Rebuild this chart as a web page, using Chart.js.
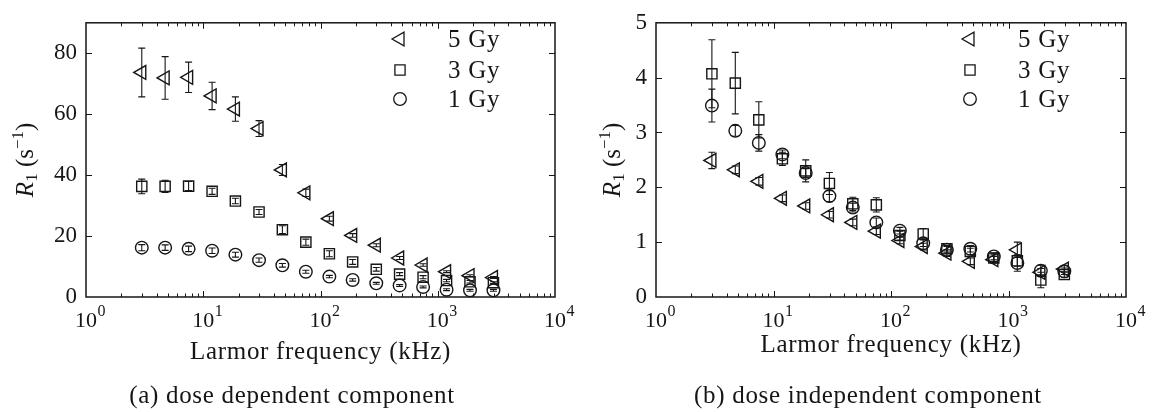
<!DOCTYPE html>
<html>
<head>
<meta charset="utf-8">
<script src="https://cdn.jsdelivr.net/npm/chart.js@4.4.1/dist/chart.umd.min.js"></script>
<style>
  html, body { margin: 0; padding: 0; background: #ffffff; }
  #wrap { display: flex; width: 1152px; height: 412px; }
  canvas { display: block; }
</style>
</head>
<body>
<div id="wrap">
  <canvas id="panelA" width="576" height="412"></canvas>
  <canvas id="panelB" width="576" height="412"></canvas>
</div>
<script>
// Larmor frequencies of the field-cycling points (kHz)
const freqKHz = [2.99, 4.73, 7.50, 11.9, 18.8, 29.9, 47.3, 75.0, 119, 188, 299, 473, 750, 1189, 1884, 2985];
const doseLabels = ['5 Gy', '3 Gy', '1 Gy'];
const xMajorTicks = [1, 10, 100, 1000, 10000];

// (a) dose dependent component, R1 in s^-1
const depR1_5Gy  = [73.7, 71.9, 72.1, 66.0, 61.7, 55.3, 41.7, 34.2, 25.7, 20.2, 17.0, 12.8, 10.5, 8.3, 7.0, 6.4];
const depErr_5Gy = [8.0, 7.0, 5.0, 4.5, 4.0, 2.6, 1.8, 1.2, 0.8, 0.6, 0.5, 0.5, 0.4, 0.3, 0.3, 0.3];
const depR1_3Gy  = [36.3, 36.3, 36.4, 34.7, 31.5, 27.9, 22.1, 18.0, 14.2, 11.5, 9.1, 7.5, 6.5, 5.4, 5.0, 4.7];
const depErr_3Gy = [2.4, 2.0, 1.5, 1.0, 0.9, 0.8, 1.3, 1.0, 1.0, 0.8, 0.6, 0.5, 0.5, 0.4, 0.4, 0.3];
const depR1_1Gy  = [16.2, 16.2, 15.8, 15.2, 13.9, 12.1, 10.4, 8.3, 6.7, 5.6, 4.5, 3.8, 3.3, 2.4, 2.2, 2.2];
const depErr_1Gy = [1.0, 0.9, 0.9, 0.9, 0.8, 0.7, 0.6, 0.5, 0.4, 0.4, 0.3, 0.3, 0.3, 0.3, 0.3, 0.3];
const depYTicks  = [0, 20, 40, 60, 80];

// (b) dose independent component, R1 in s^-1
const indR1_5Gy  = [2.49, 2.32, 2.11, 1.80, 1.66, 1.50, 1.36, 1.20, 1.03, 0.92, 0.80, 0.65, 0.68, 0.86, 0.45, 0.51];
const indErr_5Gy = [0.15, 0.07, 0.07, 0.06, 0.06, 0.06, 0.06, 0.06, 0.06, 0.06, 0.06, 0.06, 0.06, 0.14, 0.07, 0.06];
const indR1_3Gy  = [4.07, 3.90, 3.23, 2.52, 2.30, 2.07, 1.70, 1.68, 1.12, 1.15, 0.88, 0.83, 0.71, 0.66, 0.31, 0.41];
const indErr_3Gy = [0.62, 0.56, 0.33, 0.12, 0.20, 0.20, 0.12, 0.13, 0.08, 0.10, 0.06, 0.06, 0.06, 0.10, 0.14, 0.06];
const indR1_1Gy  = [3.49, 3.03, 2.81, 2.60, 2.26, 1.84, 1.63, 1.36, 1.21, 0.98, 0.86, 0.88, 0.74, 0.62, 0.48, 0.47];
const indErr_1Gy = [0.30, 0.10, 0.15, 0.08, 0.08, 0.10, 0.08, 0.08, 0.06, 0.06, 0.06, 0.06, 0.06, 0.15, 0.10, 0.06];
const indYTicks  = [0, 1, 2, 3, 4, 5];

const SERIF = "'Liberation Serif', 'DejaVu Serif', serif";
const INK = '#161616';

const markerStyles = [
  { pointStyle: 'triangle', rotation: -90, radius: 8 },
  { pointStyle: 'rect', rotation: 0, radius: 7.2 },
  { pointStyle: 'circle', rotation: 0, radius: 6.3 }
];

function toPoints(vals, errs) {
  return freqKHz.map((f, i) => ({ x: f, y: vals[i], e: errs[i] }));
}

function buildDatasets(series) {
  return series.map((s, i) => ({
    label: doseLabels[i],
    data: toPoints(s[0], s[1]),
    showLine: false,
    clip: false,
    pointStyle: markerStyles[i].pointStyle,
    rotation: markerStyles[i].rotation,
    pointRadius: markerStyles[i].radius,
    pointHoverRadius: markerStyles[i].radius,
    borderColor: INK,
    backgroundColor: 'rgba(0,0,0,0)',
    pointBorderWidth: 1.4
  }));
}

// small outline marker used in the in-plot key
function drawKeyMarker(ctx, style, x, y) {
  const r = style.radius;
  ctx.beginPath();
  if (style.pointStyle === 'triangle') {
    let rad = style.rotation * Math.PI / 180;
    ctx.moveTo(x + Math.sin(rad) * r, y - Math.cos(rad) * r);
    rad += 2 * Math.PI / 3;
    ctx.lineTo(x + Math.sin(rad) * r, y - Math.cos(rad) * r);
    rad += 2 * Math.PI / 3;
    ctx.lineTo(x + Math.sin(rad) * r, y - Math.cos(rad) * r);
    ctx.closePath();
  } else if (style.pointStyle === 'rect') {
    const s = Math.SQRT1_2 * r;
    ctx.rect(x - s, y - s, 2 * s, 2 * s);
  } else {
    ctx.arc(x, y, r, 0, 2 * Math.PI);
  }
  ctx.stroke();
}

const errorBars = {
  id: 'errorBars',
  afterDatasetsDraw(chart) {
    const { ctx } = chart;
    const xs = chart.scales.x, ys = chart.scales.y;
    ctx.save();
    ctx.strokeStyle = INK;
    ctx.lineWidth = 1.1;
    chart.data.datasets.forEach(ds => {
      ds.data.forEach(p => {
        const px = xs.getPixelForValue(p.x);
        const yt = ys.getPixelForValue(p.y + p.e);
        const yb = ys.getPixelForValue(p.y - p.e);
        ctx.beginPath();
        ctx.moveTo(px, yt); ctx.lineTo(px, yb);
        ctx.moveTo(px - 3.5, yt); ctx.lineTo(px + 3.5, yt);
        ctx.moveTo(px - 3.5, yb); ctx.lineTo(px + 3.5, yb);
        ctx.stroke();
      });
    });
    ctx.restore();
  }
};

const panelDecor = {
  id: 'panelDecor',
  afterDraw(chart, args, opts) {
    const { ctx, chartArea: a } = chart;
    const xs = chart.scales.x, ys = chart.scales.y;
    ctx.save();
    ctx.strokeStyle = INK;
    ctx.fillStyle = INK;

    // frame
    ctx.lineWidth = 1.5;
    ctx.strokeRect(a.left, a.top, a.right - a.left, a.bottom - a.top);

    // inward ticks
    ctx.lineWidth = 1;
    ctx.beginPath();
    opts.yTicks.forEach(v => {
      const py = Math.round(ys.getPixelForValue(v)) + 0.5;
      if (py <= a.top + 1 || py >= a.bottom - 1) return;
      ctx.moveTo(a.left, py); ctx.lineTo(a.left + 6, py);
      ctx.moveTo(a.right, py); ctx.lineTo(a.right - 6, py);
    });
    for (let d = 0; d < xMajorTicks.length; d++) {
      const base = xMajorTicks[d];
      const px = Math.round(xs.getPixelForValue(base)) + 0.5;
      if (px > a.left + 1 && px < a.right - 1) {
        ctx.moveTo(px, a.bottom); ctx.lineTo(px, a.bottom - 6);
        ctx.moveTo(px, a.top); ctx.lineTo(px, a.top + 6);
      }
      if (d < xMajorTicks.length - 1) {
        for (let m = 2; m <= 9; m++) {
          const mx = Math.round(xs.getPixelForValue(base * m)) + 0.5;
          ctx.moveTo(mx, a.bottom); ctx.lineTo(mx, a.bottom - 3.5);
          ctx.moveTo(mx, a.top); ctx.lineTo(mx, a.top + 3.5);
        }
      }
    }
    ctx.stroke();

    // x tick labels: 10 with raised exponent
    ctx.textBaseline = 'alphabetic';
    xMajorTicks.forEach(v => {
      const px = xs.getPixelForValue(v);
      ctx.font = `22px ${SERIF}`;
      ctx.textAlign = 'center';
      ctx.fillText('10', px, 327);
      const half = ctx.measureText('10').width / 2;
      ctx.font = `16px ${SERIF}`;
      ctx.textAlign = 'left';
      ctx.fillText(String(Math.round(Math.log10(v))), px + half + 0.5, 316);
    });

    // x axis title and sub-figure caption
    ctx.letterSpacing = '0.7px';
    ctx.font = `25px ${SERIF}`;
    ctx.textAlign = 'center';
    ctx.fillText('Larmor frequency (kHz)', (a.left + a.right) / 2, opts.xTitleY);
    ctx.fillText(opts.caption, 292, 403);
    ctx.letterSpacing = '0px';

    // y axis title: R_1 (s^-1), rotated
    ctx.save();
    ctx.translate(opts.yTitleX, (a.top + a.bottom) / 2);
    ctx.rotate(-Math.PI / 2);
    const parts = [
      { t: 'R', f: `italic 25px ${SERIF}`, dy: 0 },
      { t: '1', f: `17px ${SERIF}`, dy: 4 },
      { t: ' (s', f: `25px ${SERIF}`, dy: 0 },
      { t: '\u22121', f: `17px ${SERIF}`, dy: -10 },
      { t: ')', f: `25px ${SERIF}`, dy: 0 }
    ];
    let total = 0;
    parts.forEach(p => { ctx.font = p.f; p.w = ctx.measureText(p.t).width; total += p.w; });
    let cx = -total / 2;
    ctx.textAlign = 'left';
    parts.forEach(p => { ctx.font = p.f; ctx.fillText(p.t, cx, p.dy); cx += p.w; });
    ctx.restore();

    // key inside the plot
    ctx.lineWidth = 1.3;
    ctx.letterSpacing = '0.7px';
    ctx.font = `25px ${SERIF}`;
    ctx.textAlign = 'left';
    ctx.textBaseline = 'middle';
    doseLabels.forEach((lab, i) => {
      const ky = opts.keyRows[i];
      drawKeyMarker(ctx, markerStyles[i], opts.keyMarkerX, ky);
      ctx.fillText(lab, opts.keyTextX, ky + 1);
    });
    ctx.restore();
  }
};

function makePanel(canvasId, series, yMax, yTicks, geom) {
  const ctx = document.getElementById(canvasId).getContext('2d');
  return new Chart(ctx, {
    type: 'scatter',
    data: { datasets: buildDatasets(series) },
    options: {
      responsive: false,
      animation: false,
      devicePixelRatio: 1,
      layout: { padding: { top: geom.top, right: geom.right, left: 0, bottom: 0 } },
      events: [],
      plugins: {
        legend: { display: false },
        tooltip: { enabled: false },
        panelDecor: {
          yTicks: yTicks,
          xTitleY: geom.xTitleY,
          caption: geom.caption,
          yTitleX: geom.yTitleX,
          keyMarkerX: geom.keyMarkerX,
          keyTextX: geom.keyTextX,
          keyRows: [39, 70, 99]
        }
      },
      scales: {
        x: {
          type: 'logarithmic',
          min: 1,
          max: 10000,
          grid: { display: false, drawTicks: false },
          border: { display: false },
          ticks: { display: false },
          afterFit: s => { s.height = 412 - geom.bottom; }
        },
        y: {
          type: 'linear',
          min: 0,
          max: yMax,
          grid: { display: false, drawTicks: false },
          border: { display: false },
          afterBuildTicks: s => { s.ticks = yTicks.map(v => ({ value: v })); },
          ticks: {
            color: INK,
            padding: 9,
            font: { family: SERIF, size: 23 }
          },
          afterFit: s => { s.width = geom.left; }
        }
      }
    },
    plugins: [errorBars, panelDecor]
  });
}

makePanel('panelA',
  [[depR1_5Gy, depErr_5Gy], [depR1_3Gy, depErr_3Gy], [depR1_1Gy, depErr_1Gy]],
  90, depYTicks,
  { left: 86, right: 21, top: 13, bottom: 297, xTitleY: 359, yTitleX: 33,
    caption: '(a) dose dependent component', keyMarkerX: 400, keyTextX: 448 });

makePanel('panelB',
  [[indR1_5Gy, indErr_5Gy], [indR1_3Gy, indErr_3Gy], [indR1_1Gy, indErr_1Gy]],
  5, indYTicks,
  { left: 80, right: 26, top: 14, bottom: 297, xTitleY: 352, yTitleX: 44,
    caption: '(b) dose independent component', keyMarkerX: 394, keyTextX: 442 });
</script>
</body>
</html>
